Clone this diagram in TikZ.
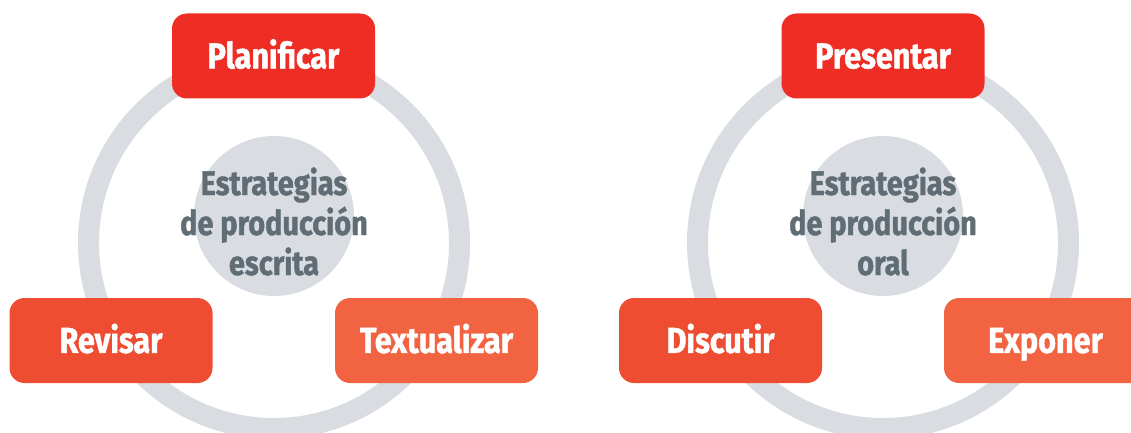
\documentclass[tikz,border=0pt]{standalone}
\usepackage{fontspec}
\newfontfamily\labfont{Fira Sans}[FakeStretch=0.85,FakeBold=1.2]
\definecolor{redA}{HTML}{EE2E24}
\definecolor{redB}{HTML}{EF4D32}
\definecolor{redC}{HTML}{F26441}
\definecolor{ringgray}{HTML}{D9DCE0}
\definecolor{txtgray}{HTML}{616D75}
\tikzset{
  stagebox/.style={draw=none, rounded corners=15pt, minimum width=203pt, minimum height=85pt,
    text=white, font=\labfont\bfseries\fontsize{36}{40}\selectfont, text height=24.8pt, text depth=0pt, inner sep=0pt},
  ring/.style={draw=ringgray, line width=21pt},
  hub/.style={circle, fill=ringgray, minimum size=160pt, inner sep=0pt},
  hubtext/.style={align=center, text=txtgray, font=\labfont\bfseries\fontsize{34}{40}\selectfont, inner sep=0pt}
}
\begin{document}
\begin{tikzpicture}[x=1pt,y=-1pt]
\useasboundingbox (0,0) rectangle (1131,433);
\clip (0,0) rectangle (1131,433);
% left diagram
\coordinate (lc) at (274,243);
\draw[ring] (lc) circle[radius=185.5pt];
\node[hub] (lhub) at (274,216) {};
\node[hubtext, anchor=base] (ltext) at (274,275) {Estrategias\\de producción\\escrita};
\node[stagebox, fill=redA] (plan) at (273.5,56) {Planificar};
\node[stagebox, fill=redB] (rev) at (111,340.5) {Revisar};
\node[stagebox, fill=redC] (text) at (436.5,340.5) {Textualizar};
% right diagram
\coordinate (rc) at (883,243);
\draw[ring] (rc) circle[radius=185.5pt];
\node[hub] (rhub) at (883,216) {};
\node[hubtext, anchor=base] (rtext) at (883,275) {Estrategias\\de producción\\oral};
\node[stagebox, fill=redA] (pres) at (883,56) {Presentar};
\node[stagebox, fill=redB] (disc) at (720.5,340.5) {Discutir};
\node[stagebox, fill=redC] (expo) at (1045.5,340.5) {Exponer};
\end{tikzpicture}
\end{document}
